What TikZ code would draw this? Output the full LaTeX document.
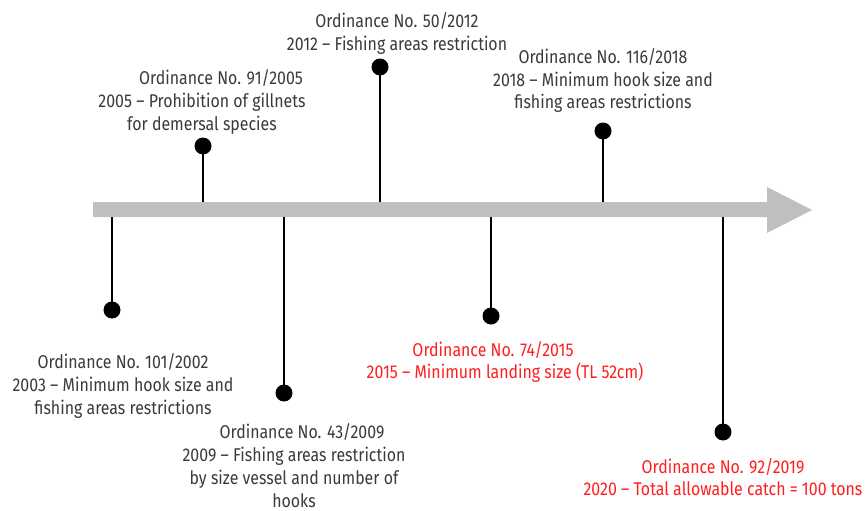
\documentclass[tikz,border=0pt]{standalone}
\usepackage{fontspec}
\setmainfont{Fira Sans}[FakeStretch=0.86]
\begin{document}
\begin{tikzpicture}[x=1pt,y=-1pt,
  bar/.style={fill=barGray,draw=none},
  pin/.style={line width=2.6pt,draw=black},
  dot/.style={circle,fill=black,inner sep=0pt,minimum size=17pt},
  % anchor=base sits on the baseline of the last line
  label/.style={align=center,anchor=base,inner sep=0pt,text=labelGray,
    font=\fontsize{18.5}{23}\selectfont},
  redlabel/.style={label,text=alertRed,font=\fontsize{18.5}{22}\selectfont}]
\definecolor{barGray}{HTML}{BFBFBF}
\definecolor{labelGray}{HTML}{3A3A3A}
\definecolor{alertRed}{HTML}{FF1E1E}
\useasboundingbox (0,0) rectangle (868,511);

% timeline arrow
\path[bar] (93,202) -- (767,202) -- (767,187) -- (812,210) -- (767,233)
  -- (767,217) -- (93,217) -- cycle;

% anchor points on the bar
\coordinate (b1) at (112,217);
\coordinate (b2) at (203,202);
\coordinate (b3) at (284,217);
\coordinate (b4) at (380,202);
\coordinate (b5) at (491,217);
\coordinate (b6) at (603,202);
\coordinate (b7) at (723,217);

% pin heads
\node[dot] (d1) at (112,310) {};
\node[dot] (d2) at (203,146) {};
\node[dot] (d3) at (284,393) {};
\node[dot] (d4) at (380,67) {};
\node[dot] (d5) at (491,316) {};
\node[dot] (d6) at (603,131) {};
\node[dot] (d7) at (723,432) {};

\foreach \i in {1,...,7} \draw[pin] (b\i) -- (d\i.center);

% labels
\node[label] (t1) at (123,414) {Ordinance No. 101/2002\\2003 -- Minimum hook size and\\fishing areas restrictions};
\node[label] (t2) at (202,130) {\hspace*{38pt}Ordinance No. 91/2005\\2005 -- Prohibition of gillnets\\for demersal species};
\node[label] (t3) at (294,507) {\hspace*{16pt}Ordinance No. 43/2009\\2009 -- Fishing areas restriction\\by size vessel and number of\\hooks};
\node[label] (t4) at (397,51) {Ordinance No. 50/2012\\2012 -- Fishing areas restriction};
\node[redlabel] (t5) at (505,378) {Ordinance No. 74/2015\hspace*{24pt}\\2015 -- Minimum landing size (TL 52cm)};
\node[label] (t6) at (603,109) {Ordinance No. 116/2018\\2018 -- Minimum hook size and\\fishing areas restrictions};
\node[redlabel] (t7) at (723,495) {Ordinance No. 92/2019\\2020 -- Total allowable catch = 100 tons};
\end{tikzpicture}
\end{document}
